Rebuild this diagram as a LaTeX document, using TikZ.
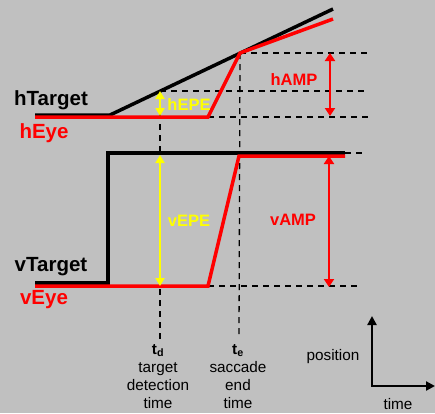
\documentclass[tikz,border=0pt]{standalone}
\usepackage{fontspec}
\setmainfont{Liberation Sans}
\usetikzlibrary{arrows.meta}
\definecolor{bgGrey}{HTML}{C0C0C0}
\definecolor{eyeRed}{HTML}{FF0000}
\definecolor{epeYellow}{HTML}{FFFF00}

\tikzset{
  target/.style={line width=3.5pt,black},
  eye/.style={line width=3.5pt,eyeRed},
  guide/.style={line width=1.3pt,black,dash pattern=on 6pt off 5pt},
  epe/.style={line width=2pt,epeYellow,{Triangle[length=8pt,width=9pt]}-{Triangle[length=8pt,width=9pt]}},
  amp/.style={line width=2.5pt,eyeRed,{Triangle[length=8pt,width=10pt]}-{Triangle[length=8pt,width=10pt]}},
  tracelabel/.style={font=\fontsize{20.5}{22}\selectfont\bfseries,inner sep=0pt},
  errlabel/.style={font=\fontsize{16.5}{18}\selectfont\bfseries,inner sep=0pt},
  timelabel/.style={font=\fontsize{15.3}{18}\selectfont,align=center,inner sep=0pt},
}

\begin{document}
\begin{tikzpicture}[x=1pt,y=-1pt]
\useasboundingbox[fill=bgGrey] (0,0) rectangle (435,413);

% horizontal traces
\coordinate (hT0) at (35,115);
\coordinate (hT1) at (110,115);
\coordinate (hT2) at (333,9);
\coordinate (hE0) at (35,117);
\coordinate (hE1) at (208,117);
\coordinate (hE2) at (240,53);
\coordinate (hE3) at (333,19);
\coordinate (hD) at (160,91);

% vertical traces
\coordinate (vT0) at (35,283);
\coordinate (vT1) at (108,283);
\coordinate (vT2) at (108,153);
\coordinate (vT3) at (345,153);
\coordinate (vE0) at (35,286);
\coordinate (vE1) at (208,286);
\coordinate (vE2) at (239,156);
\coordinate (vE3) at (345,156);

% dashed guides
\draw[guide] (hE2) -- (368,53);
\draw[guide] (hD) -- (368,91);
\draw[guide] (hE1) -- (368,117);
\draw[guide] (hD) -- (160,340);
\draw[guide] (hE2) -- (239,337);
\draw[guide] (vT3) -- (366,153);
\draw[guide] (vE1) -- (358,286);

\draw[target] (hT0) -- (hT1) -- (hT2);
\draw[eye] (hE0) -- (hE1) -- (hE2) -- (hE3);
\draw[target] (vT0) -- (vT1) -- (vT2) -- (vT3);
\draw[eye] (vE0) -- (vE1) -- (vE2) -- (vE3);

% error and amplitude arrows
\draw[epe] (160,91) -- (160,116);
\draw[epe] (160,155) -- (160,286);
\draw[amp] (330,53) -- (330,116);
\draw[amp] (329,156) -- (329,287);

\node[tracelabel] (hTarget) at (51,100) {hTarget};
\node[tracelabel,text=eyeRed] (hEye) at (44,133) {hEye};
\node[tracelabel] (vTarget) at (51,267) {vTarget};
\node[tracelabel,text=eyeRed] (vEye) at (44,300) {vEye};

\node[errlabel,text=epeYellow] (hEPE) at (189,105) {hEPE};
\node[errlabel,text=eyeRed] (hAMP) at (294,80) {hAMP};
\node[errlabel,text=epeYellow] (vEPE) at (189,221) {vEPE};
\node[errlabel,text=eyeRed] (vAMP) at (293,220) {vAMP};

\node[timelabel,anchor=north] (td) at (158,344) {\textbf{t\textsubscript{d}}\\target\\detection\\time};
\node[timelabel,anchor=north] (te) at (238,344) {\textbf{t\textsubscript{e}}\\saccade\\end\\time};

% axes
\coordinate (origin) at (372,386);
\draw[line width=2.5pt,{Triangle[length=9pt,width=9pt]}-{Triangle[length=9pt,width=9pt]}] (372,316) |- (435,386);
\node[timelabel] (position) at (333,357) {position};
\node[timelabel] (time) at (398,404) {time};
\end{tikzpicture}
\end{document}
